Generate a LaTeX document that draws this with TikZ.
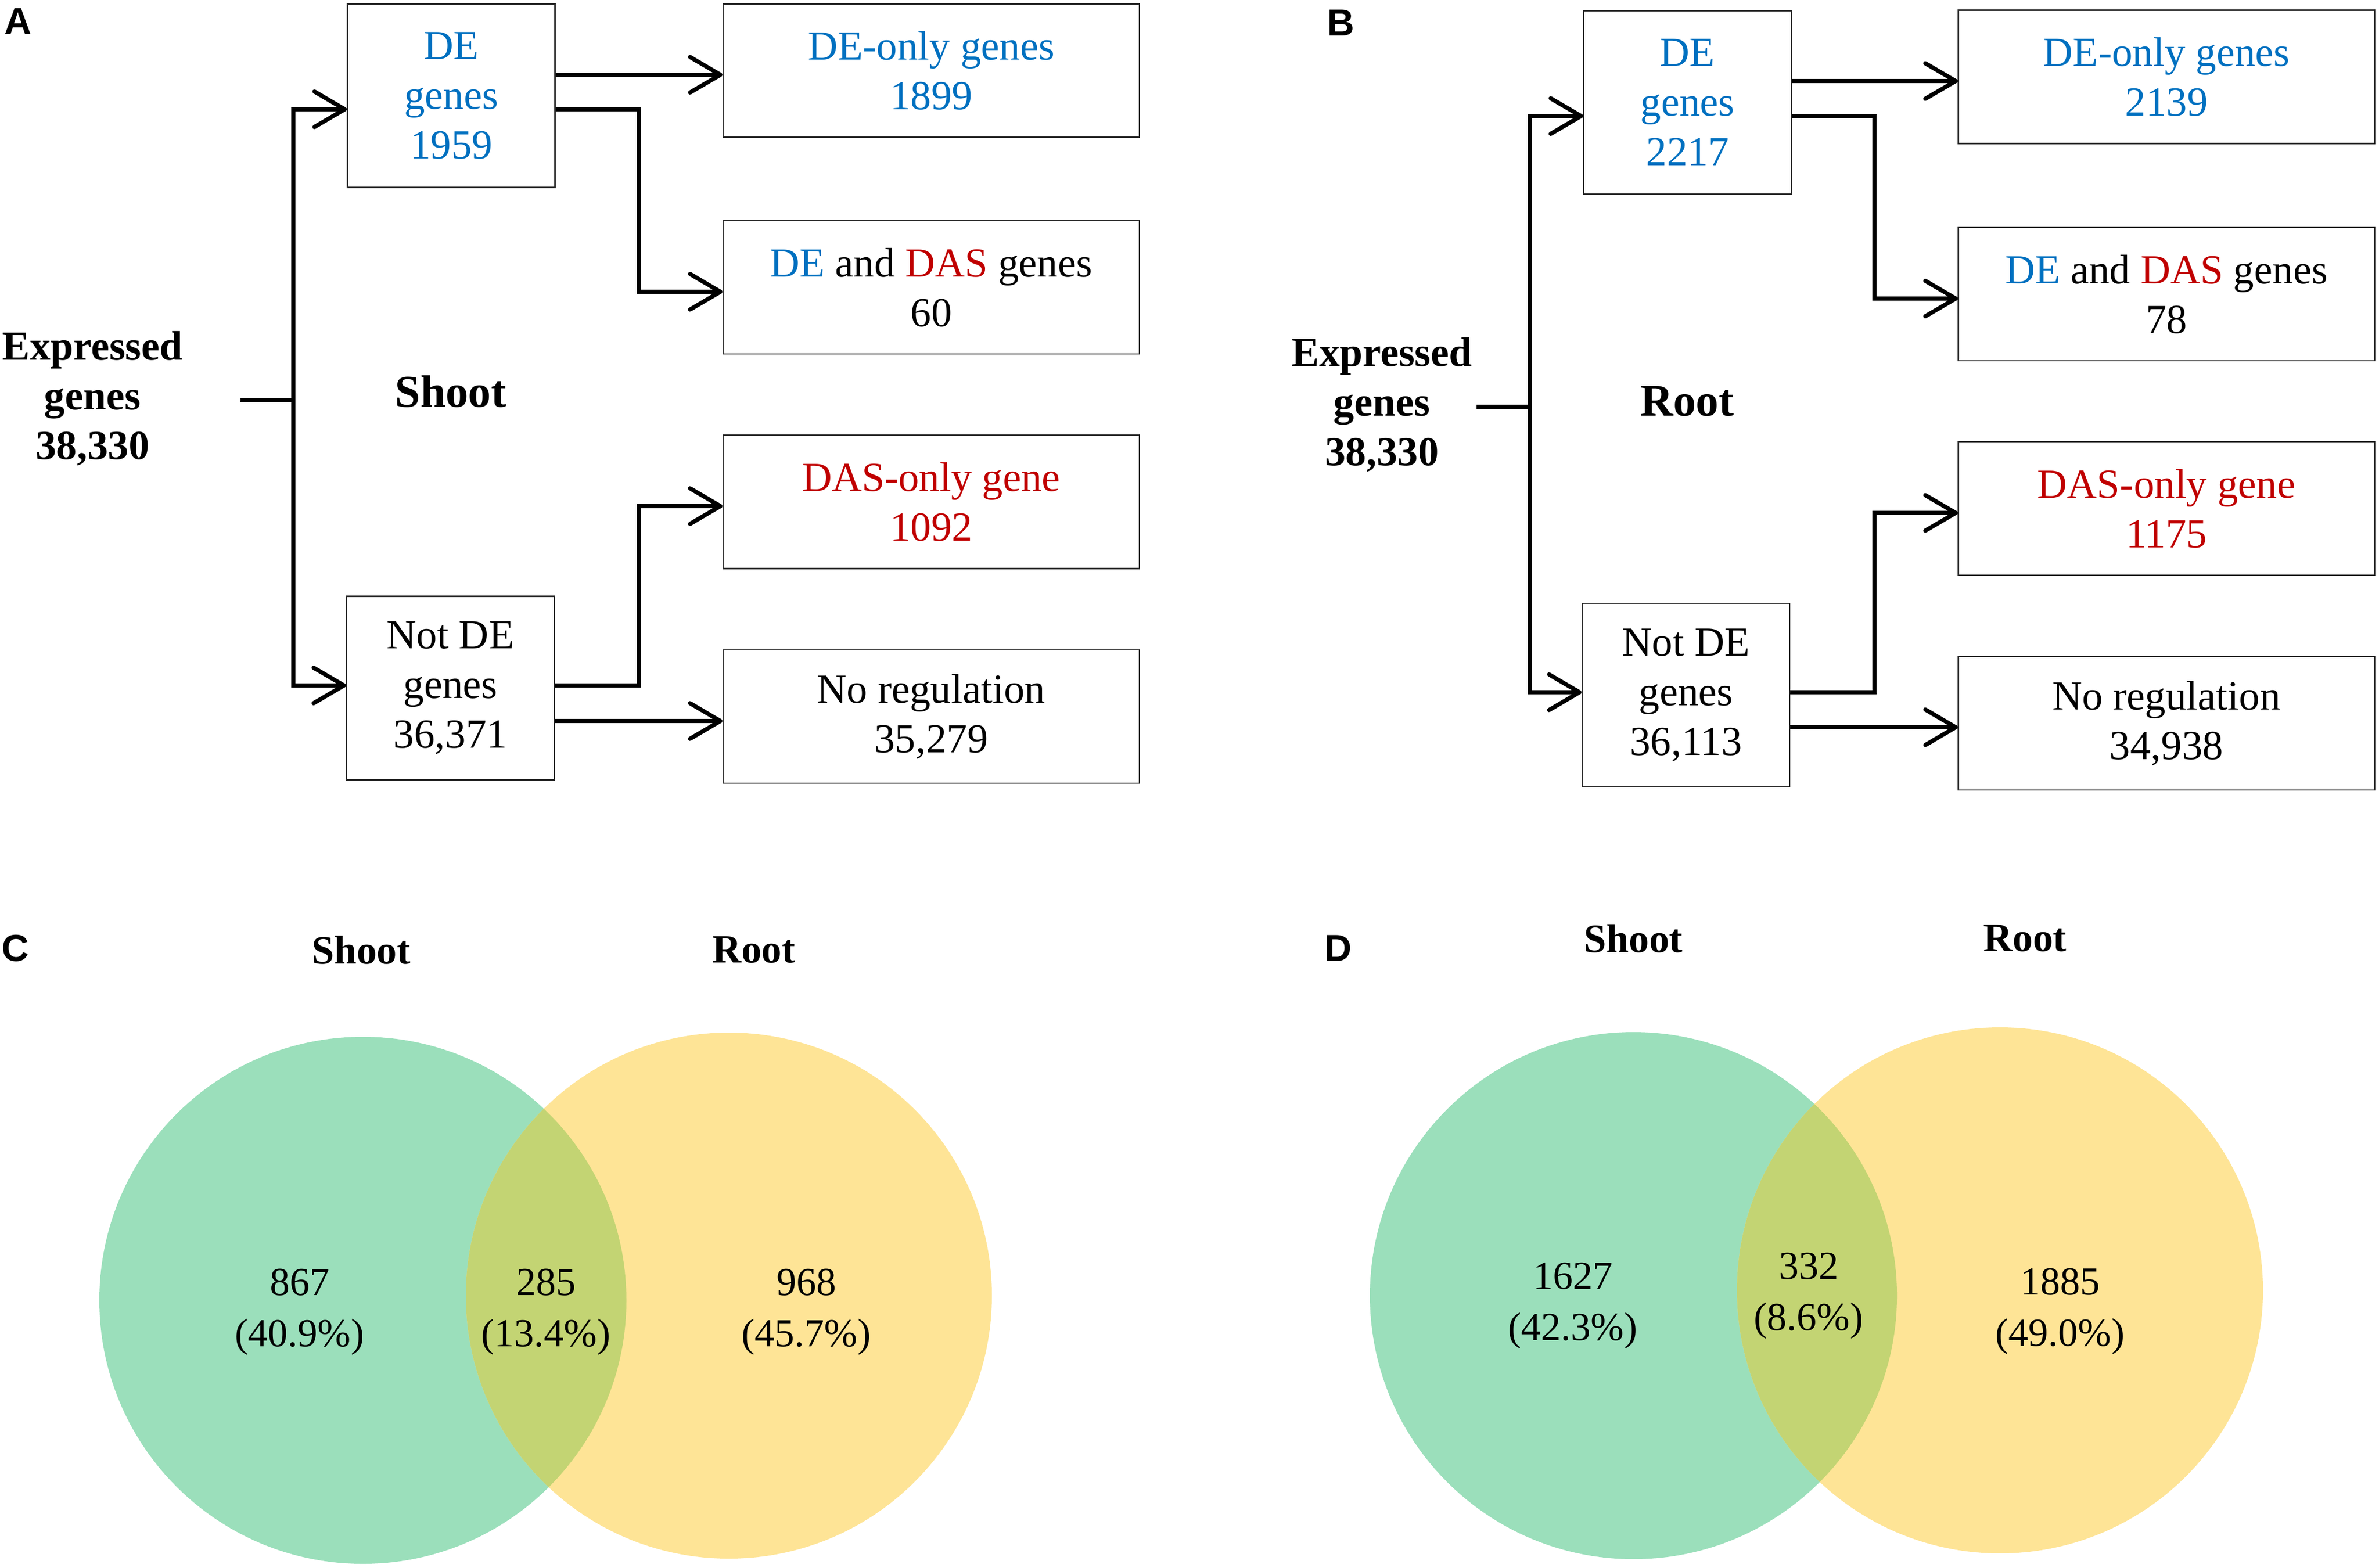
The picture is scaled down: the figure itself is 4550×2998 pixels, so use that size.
\documentclass[tikz,border=0pt]{standalone}
\usepackage{fontspec}
\setmainfont{Liberation Serif}
\newfontfamily\letterfont{Liberation Sans}
\usetikzlibrary{arrows.meta}
\definecolor{deblue}{HTML}{0070C0}
\definecolor{dasred}{HTML}{C00000}
\definecolor{vgreen}{HTML}{9BDFBB}
\definecolor{vyellow}{HTML}{FEE496}
\definecolor{vboth}{HTML}{C3D473}
\newcommand\bxfont{\fontsize{79}{95}\selectfont}
\newcommand\tisfont{\fontsize{87}{100}\selectfont\bfseries}
\newcommand\vlabfont{\fontsize{77}{90}\selectfont\bfseries}
\newcommand\vnumfont{\fontsize{76}{98}\selectfont}
\newcommand\panfont{\letterfont\fontsize{72}{80}\selectfont\bfseries}
\begin{document}
\begin{tikzpicture}[x=1pt,y=-1pt,
  box/.style={draw=black!85, line width=2.5pt, inner sep=0pt, align=center, font=\bxfont},
  narrow/.style={minimum width=397pt, minimum height=351pt},
  wide/.style={minimum width=796pt, minimum height=255pt},
  exprtext/.style={inner sep=0pt, align=center, font=\bxfont\bfseries},
  tissue/.style={inner sep=0pt, font=\tisfont},
  vlab/.style={inner sep=0pt, font=\vlabfont},
  vnum/.style={inner sep=0pt, align=center, font=\vnumfont},
  panel/.style={inner sep=0pt, font=\panfont},
  conn/.style={line width=8pt},
  arr/.style={-{Straight Barb[length=58pt,width=68pt,round]}}]
\useasboundingbox (0,0) rectangle (4550,2998);

% ---------------- Panel A ----------------
\node[panel] (labA) at (34,41) {A};
\node[box, narrow, text=deblue] (deA) at (863,183) {DE\\genes\\1959};
\node[box, narrow] (notdeA) at (861.5,1316) {Not DE\\genes\\36,371};
\node[box, wide, text=deblue] (deonlyA) at (1781,135) {DE-only genes\\1899};
\node[box, wide] (dedasA) at (1781,549.5) {{\color{deblue}DE} and {\color{dasred}DAS} genes\\60};
\node[box, wide, text=dasred] (dasonlyA) at (1781,960) {DAS-only gene\\1092};
\node[box, wide] (noregA) at (1781,1370.5) {No regulation\\35,279};
\node[exprtext] (exprA) at (177,762) {Expressed\\genes\\38,330};
\node[tissue] (tisA) at (862,749) {Shoot};

\coordinate (A-stub) at (460,765);
\coordinate (A-trunk) at (561,765);
\coordinate (A-turn) at (1222,0);
\coordinate (A-y1) at (0,143);
\coordinate (A-y2) at (0,209);
\coordinate (A-y3) at (0,558);
\coordinate (A-y4) at (0,968);
\coordinate (A-y5) at (0,1311);
\coordinate (A-y6) at (0,1379);

\draw[conn] (A-stub) -- (A-trunk);
\draw[conn,arr] (A-trunk) |- (deA.west |- A-y2);
\draw[conn,arr] (A-trunk) |- (notdeA.west |- A-y5);
\draw[conn,arr] (deA.east |- A-y1) -- (deonlyA.west |- A-y1);
\draw[conn,arr] (deA.east |- A-y2) -| (A-turn |- A-y3) -- (dedasA.west |- A-y3);
\draw[conn,arr] (notdeA.east |- A-y5) -| (A-turn |- A-y4) -- (dasonlyA.west |- A-y4);
\draw[conn,arr] (notdeA.east |- A-y6) -- (noregA.west |- A-y6);

% ---------------- Panel B ----------------
\node[panel] (labB) at (2564,44) {B};
\node[box, narrow, text=deblue] (deB) at (3227.5,196) {DE\\genes\\2217};
\node[box, narrow] (notdeB) at (3224.5,1329.5) {Not DE\\genes\\36,113};
\node[box, wide, text=deblue] (deonlyB) at (4143.5,147) {DE-only genes\\2139};
\node[box, wide] (dedasB) at (4143.5,562.5) {{\color{deblue}DE} and {\color{dasred}DAS} genes\\78};
\node[box, wide, text=dasred] (dasonlyB) at (4143.5,972.5) {DAS-only gene\\1175};
\node[box, wide] (noregB) at (4143.5,1383.5) {No regulation\\34,938};
\node[exprtext] (exprB) at (2643,774) {Expressed\\genes\\38,330};
\node[tissue] (tisB) at (3227,767) {Root};

\coordinate (B-stub) at (2824,778);
\coordinate (B-trunk) at (2926,778);
\coordinate (B-turn) at (3585,0);
\coordinate (B-y1) at (0,155);
\coordinate (B-y2) at (0,222);
\coordinate (B-y3) at (0,571);
\coordinate (B-y4) at (0,981);
\coordinate (B-y5) at (0,1324);
\coordinate (B-y6) at (0,1391);

\draw[conn] (B-stub) -- (B-trunk);
\draw[conn,arr] (B-trunk) |- (deB.west |- B-y2);
\draw[conn,arr] (B-trunk) |- (notdeB.west |- B-y5);
\draw[conn,arr] (deB.east |- B-y1) -- (deonlyB.west |- B-y1);
\draw[conn,arr] (deB.east |- B-y2) -| (B-turn |- B-y3) -- (dedasB.west |- B-y3);
\draw[conn,arr] (notdeB.east |- B-y5) -| (B-turn |- B-y4) -- (dasonlyB.west |- B-y4);
\draw[conn,arr] (notdeB.east |- B-y6) -- (noregB.west |- B-y6);

% ---------------- Panel C ----------------
\node[panel] (labC) at (29,1814) {C};
\fill[vgreen] (694,2487) circle[radius=504pt];
\fill[vyellow] (1394,2478) circle[radius=503pt];
\begin{scope}
  \clip (694,2487) circle[radius=504pt];
  \fill[vboth] (1394,2478) circle[radius=503pt];
\end{scope}
\node[vlab] (vsC) at (691,1817) {Shoot};
\node[vlab] (vrC) at (1442,1817) {Root};
\node[vnum] (n1C) at (573,2509) {867\\(40.9\%)};
\node[vnum] (n2C) at (1044,2509) {285\\(13.4\%)};
\node[vnum] (n3C) at (1542,2509) {968\\(45.7\%)};

% ---------------- Panel D ----------------
\node[panel] (labD) at (2559,1814) {D};
\fill[vgreen] (3124,2478) circle[radius=504pt];
\fill[vyellow] (3825,2468) circle[radius=503pt];
\begin{scope}
  \clip (3124,2478) circle[radius=504pt];
  \fill[vboth] (3825,2468) circle[radius=503pt];
\end{scope}
\node[vlab] (vsD) at (3124,1795) {Shoot};
\node[vlab] (vrD) at (3873,1795) {Root};
\node[vnum] (n1D) at (3008,2497) {1627\\(42.3\%)};
\node[vnum] (n2D) at (3459,2478) {332\\(8.6\%)};
\node[vnum] (n3D) at (3940,2508) {1885\\(49.0\%)};
\end{tikzpicture}
\end{document}
